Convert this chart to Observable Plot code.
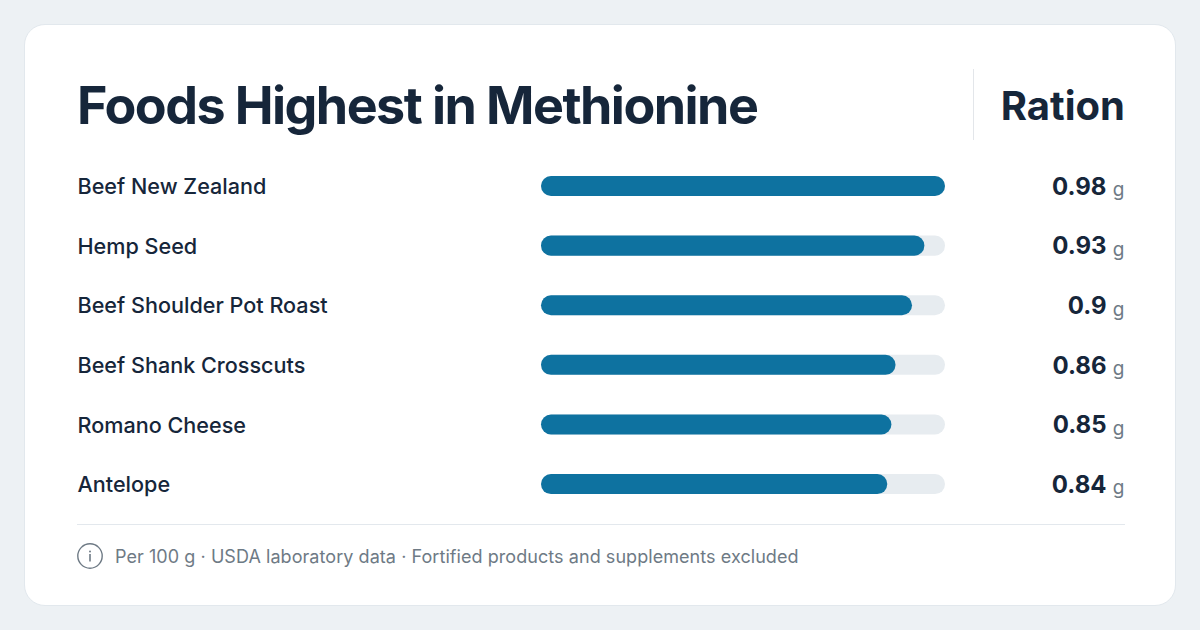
<!DOCTYPE html>
<html><head><meta charset="utf-8">
<script src="https://cdn.jsdelivr.net/npm/d3@7"></script>
<script src="https://cdn.jsdelivr.net/npm/@observablehq/plot@0.6"></script>
<style>
html,body{margin:0;padding:0;background:#edf1f4;}
body{width:1200px;height:630px;position:relative;overflow:hidden;font-family:Inter,sans-serif;color:#16263a;}
#card{position:absolute;left:24px;top:24px;width:1152px;height:582px;background:#fff;border:1px solid #e2e8ed;border-radius:21px;box-sizing:border-box;}
#title{position:absolute;left:77px;top:75px;font-size:52px;font-weight:700;line-height:62px;letter-spacing:-1.55px;white-space:nowrap;margin:0;}
#head{position:absolute;right:75px;top:82px;font-size:40px;font-weight:700;line-height:48px;white-space:nowrap;}
#sep{position:absolute;left:973px;top:69px;width:1px;height:71px;background:#e3e6ea;}
#rule{position:absolute;left:77px;top:524px;width:1048px;height:1px;background:#e3e8ed;}
#note{position:absolute;left:77px;top:543px;height:26px;display:flex;align-items:center;font-size:18px;letter-spacing:.06px;color:#6e7a85;white-space:nowrap;}
#note svg{margin-right:12px;}
#chart{position:absolute;left:0;top:0;}
#chart svg{background:transparent;}
</style></head><body>
<div id="card"></div>
<h1 id="title"></h1>
<div id="sep"></div>
<div id="head"></div>
<div id="chart"></div>
<div id="rule"></div>
<div id="note"><svg width="26" height="26" viewBox="0 0 26 26"><circle cx="13" cy="13" r="12.2" fill="none" stroke="#6e7a85" stroke-width="1.4"/><circle cx="13" cy="8.4" r="1" fill="#6e7a85"/><rect x="12.2" y="11" width="1.6" height="7.5" fill="#6e7a85"/></svg><span id="noteText"></span></div>
<script>
const titleText = "Foods Highest in Methionine";
const headText = "Ration";
const noteText = "Per 100 g · USDA laboratory data · Fortified products and supplements excluded";
const foods = ["Beef New Zealand","Hemp Seed","Beef Shoulder Pot Roast","Beef Shank Crosscuts","Romano Cheese","Antelope"];
const values = [0.98,0.93,0.9,0.86,0.85,0.84];
const unit = "g";
const maxValue = 0.98;

document.getElementById("title").textContent = titleText;
document.getElementById("head").textContent = headText;
document.getElementById("noteText").textContent = noteText;

const rows = foods.map((food,i)=>({food,value:values[i]}));
const ink="#16263a", grey="#6e7a85";
const font="Inter, sans-serif";
const plot = Plot.plot({
  width:1200,height:630,
  marginLeft:78,marginRight:75,marginTop:0,marginBottom:0,
  x:{domain:[0,maxValue],range:[541,945],axis:null},
  y:{domain:foods,range:[156.2,513.9],padding:0,round:false,axis:null},
  style:{background:"transparent",fontFamily:font},
  marks:[
    Plot.barX(rows,{x1:0,x2:()=>maxValue,y:"food",fill:"#e7ecf0",rx:10,insetTop:19.8,insetBottom:19.8}),
    Plot.barX(rows,{x1:0,x2:"value",y:"food",fill:"#0e72a0",rx:10,insetTop:19.8,insetBottom:19.8}),
    Plot.text(rows,{text:"food",y:"food",frameAnchor:"left",textAnchor:"start",dx:-1,dy:0.7,fontSize:21.6,fill:ink,fontWeight:500,fontFamily:font,style:"letter-spacing:.12px"}),
    Plot.text(rows,{text:d=>String(d.value),y:"food",frameAnchor:"right",textAnchor:"end",dx:-19,dy:0.5,fontSize:24,fontWeight:700,fill:ink,fontFamily:font}),
    Plot.text(rows,{text:()=>unit,y:"food",frameAnchor:"right",textAnchor:"end",dx:-1,dy:3.7,fontSize:19,fill:grey,fontFamily:font})
  ]
});
document.getElementById("chart").appendChild(plot);
</script>
</body></html>
